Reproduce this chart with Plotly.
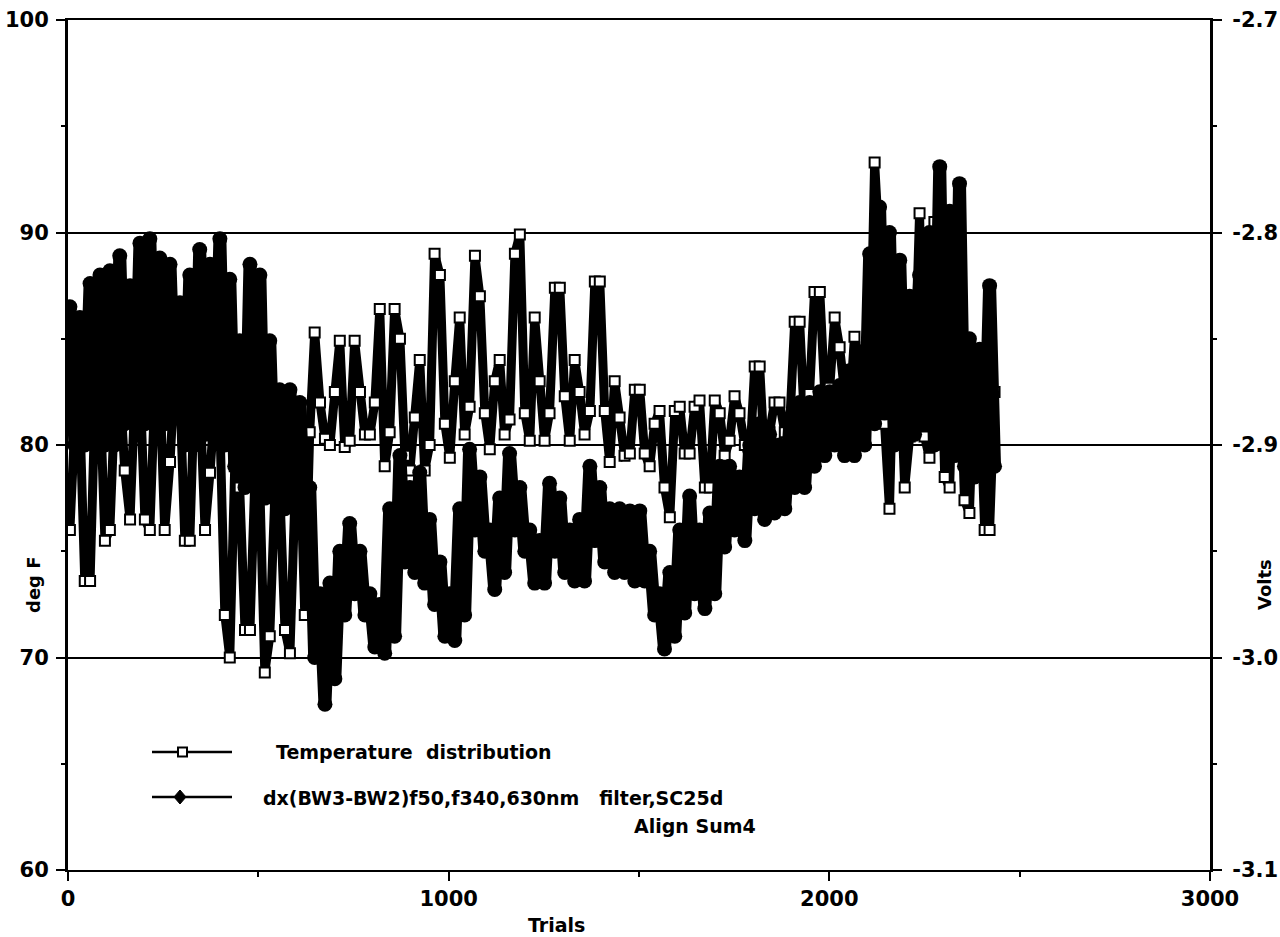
import plotly.graph_objects as go

# Temperature (deg F) and detector signal (Volts), sampled about every 13 trials.
# Values follow the fast swing of each signal between its highs and lows.
temp_f = [
    76, 81, 81.5, 73.6, 73.6, 82, 82.5, 75.5, 76, 82, 83, 78.8, 76.5, 82.5, 83, 76.5,
    76, 82.5, 83, 76, 79.2, 83.5, 82.5, 75.5, 75.5, 83, 82.5, 76, 78.7, 82, 81, 72,
    70, 79, 78, 71.3, 71.3, 78.5, 78, 69.3, 71, 77.5, 78, 71.3, 70.2, 77.5, 80, 72,
    80.6, 85.3, 82, 80.3, 80, 82.5, 84.9, 79.9, 80.2, 84.9, 82.5, 80.5, 80.5, 82, 86.4, 79,
    80.6, 86.4, 85, 79.5, 78.8, 81.3, 84, 78.8, 80, 89, 88, 81, 79.4, 83, 86, 80.5,
    81.8, 88.9, 87, 81.5, 79.8, 83, 84, 80.5, 81.2, 89, 89.9, 81.5, 80.2, 86, 83, 80.2,
    81.5, 87.4, 87.4, 82.3, 80.2, 84, 82.5, 80.5, 81.6, 87.7, 87.7, 81.6, 79.2, 83, 81.3, 79.5,
    79.6, 82.6, 82.6, 79.6, 79, 81, 81.6, 78, 76.6, 81.6, 81.8, 79.6, 79.6, 81.8, 82.1, 78,
    78, 82.1, 81.5, 79.5, 80.2, 82.3, 81.5, 80, 79.3, 83.7, 83.7, 79.3, 80.6, 82, 82, 80.6,
    81, 85.8, 85.8, 81, 82.4, 87.2, 87.2, 82.4, 82.7, 86, 84.6, 82.5, 81.5, 85.1, 84, 82,
    82.4, 93.3, 89, 81, 77, 86, 84, 78, 80.4, 83, 90.9, 80.4, 79.4, 90.5, 88, 78.5,
    78, 86, 85, 77.4, 76.8, 84, 83, 76, 76, 82.5,
]

volts = [
    -2.835, -2.900, -2.840, -2.900, -2.824, -2.895, -2.820, -2.900, -2.818, -2.900,
    -2.811, -2.890, -2.825, -2.890, -2.805, -2.890, -2.803, -2.890, -2.812, -2.890,
    -2.815, -2.885, -2.833, -2.900, -2.820, -2.900, -2.808, -2.895, -2.815, -2.890,
    -2.803, -2.900, -2.822, -2.910, -2.851, -2.920, -2.815, -2.920, -2.820, -2.925,
    -2.851, -2.925, -2.874, -2.930, -2.874, -2.930, -2.880, -2.940, -2.920, -3.000,
    -2.970, -3.022, -2.965, -3.010, -2.950, -2.980, -2.937, -2.970, -2.950, -2.980,
    -2.970, -2.995, -2.975, -2.998, -2.930, -2.990, -2.905, -2.955, -2.920, -2.960,
    -2.913, -2.965, -2.935, -2.975, -2.955, -2.990, -2.970, -2.992, -2.930, -2.980,
    -2.902, -2.940, -2.915, -2.950, -2.940, -2.968, -2.925, -2.960, -2.904, -2.940,
    -2.920, -2.950, -2.940, -2.965, -2.945, -2.965, -2.918, -2.950, -2.925, -2.960,
    -2.940, -2.964, -2.935, -2.964, -2.910, -2.945, -2.920, -2.955, -2.930, -2.960,
    -2.930, -2.960, -2.931, -2.964, -2.931, -2.964, -2.950, -2.980, -2.970, -2.996,
    -2.960, -2.990, -2.940, -2.979, -2.924, -2.970, -2.940, -2.977, -2.932, -2.970,
    -2.910, -2.948, -2.910, -2.940, -2.915, -2.945, -2.900, -2.930, -2.890, -2.935,
    -2.895, -2.932, -2.900, -2.930, -2.890, -2.920, -2.880, -2.920, -2.880, -2.910,
    -2.875, -2.905, -2.875, -2.900, -2.872, -2.905, -2.865, -2.905, -2.860, -2.900,
    -2.810, -2.890, -2.788, -2.885, -2.800, -2.900, -2.813, -2.900, -2.830, -2.895,
    -2.820, -2.890, -2.800, -2.900, -2.769, -2.900, -2.790, -2.905, -2.777, -2.910,
    -2.850, -2.915, -2.855, -2.910, -2.825, -2.910,
]

# trial number of each sample
trials = [round(5 + 13.13 * k) for k in range(len(temp_f))]

temp_name = "Temperature  distribution"
volt_name = "dx(BW3-BW2)f50,f340,630nm   filter,SC25d"
volt_note = "Align Sum4"

x_ticks = [0, 1000, 2000, 3000]
left_ticks = [60, 70, 80, 90, 100]
right_ticks = [-3.1, -3.0, -2.9, -2.8, -2.7]
right_labels = ["-3.1", "-3.0", "-2.9", "-2.8", "-2.7"]

FONT = "DejaVu Sans, Arial, sans-serif"
BOLD = dict(family=FONT, color="black", weight="bold")

fig = go.Figure()

# heavy strokes so the densely sampled traces print as solid bands
fig.add_trace(go.Scatter(
    x=trials, y=volts, yaxis="y2", mode="lines+markers", name=volt_name,
    line=dict(color="black", width=13),
    marker=dict(symbol="circle", size=15, color="black"),
    showlegend=False,
))
fig.add_trace(go.Scatter(
    x=trials, y=temp_f, mode="lines+markers", name=temp_name,
    line=dict(color="black", width=9),
    marker=dict(symbol="square", size=10, color="white",
                line=dict(color="black", width=2)),
    showlegend=False,
))

# hand-drawn legend block inside the plot area (paper coordinates)
def px_x(px):
    return (px - 68) / 1142.0

def px_y(py):
    return (870 - py) / 850.0

shapes = []
for py in (752, 797):
    shapes.append(dict(type="line", xref="paper", yref="paper",
                       x0=px_x(152), x1=px_x(232), y0=px_y(py), y1=px_y(py),
                       line=dict(color="black", width=2.5)))
# open square legend symbol
shapes.append(dict(type="rect", xref="paper", yref="paper",
                   x0=px_x(178), x1=px_x(187), y0=px_y(756.5), y1=px_y(747.5),
                   fillcolor="white", line=dict(color="black", width=2)))
# filled diamond legend symbol
cx, cy = 180, 797
shapes.append(dict(type="path", xref="paper", yref="paper",
                   path=(f"M {px_x(cx)},{px_y(cy - 7)} L {px_x(cx + 6)},{px_y(cy)} "
                         f"L {px_x(cx)},{px_y(cy + 7)} L {px_x(cx - 6)},{px_y(cy)} Z"),
                   fillcolor="black", line=dict(color="black", width=1)))

annotations = [
    dict(text=temp_name, xref="paper", yref="paper", x=px_x(274), y=px_y(752),
         xanchor="left", yanchor="middle", showarrow=False, font=dict(BOLD, size=19)),
    dict(text=volt_name, xref="paper", yref="paper", x=px_x(261), y=px_y(798),
         xanchor="left", yanchor="middle", showarrow=False, font=dict(BOLD, size=19)),
    dict(text=volt_note, xref="paper", yref="paper", x=px_x(632), y=px_y(826),
         xanchor="left", yanchor="middle", showarrow=False, font=dict(BOLD, size=19)),
    dict(text="deg F", xref="paper", yref="paper", x=px_x(33), y=px_y(585),
         xanchor="center", yanchor="middle", showarrow=False, textangle=-90,
         font=dict(BOLD, size=18)),
    dict(text="Volts", xref="paper", yref="paper", x=px_x(1264), y=px_y(585),
         xanchor="center", yanchor="middle", showarrow=False, textangle=-90,
         font=dict(BOLD, size=18)),
    dict(text="Trials", xref="paper", yref="paper", x=px_x(556), y=px_y(925),
         xanchor="center", yanchor="middle", showarrow=False, font=dict(BOLD, size=19)),
]

tickfont = dict(BOLD, size=21)

fig.update_layout(
    width=1280, height=937,
    margin=dict(l=68, r=70, t=20, b=67, autoexpand=False),
    paper_bgcolor="white", plot_bgcolor="white",
    font=dict(family=FONT, size=21, color="black"),
    shapes=shapes, annotations=annotations,
    xaxis=dict(
        range=[0, 3000], tickvals=x_ticks, ticks="outside", ticklen=9, tickwidth=2,
        tickcolor="black", showline=True, linecolor="black", linewidth=2,
        mirror=True, showgrid=False, zeroline=False, automargin=False,
        minor=dict(ticks="outside", ticklen=5, tickwidth=2, tickcolor="black",
                   dtick=500, showgrid=False),
        tickfont=tickfont,
    ),
    yaxis=dict(
        range=[60, 100], tickvals=left_ticks, ticks="outside", ticklen=9, tickwidth=2,
        tickcolor="black", showline=True, linecolor="black", linewidth=3,
        showgrid=True, gridcolor="black", gridwidth=2, zeroline=False, automargin=False,
        minor=dict(ticks="outside", ticklen=4, tickwidth=2, tickcolor="black",
                   dtick=5, showgrid=False),
        tickfont=tickfont, ticklabelstandoff=3,
    ),
    yaxis2=dict(
        range=[-3.1, -2.7], overlaying="y", side="right",
        tickvals=right_ticks, ticktext=right_labels, ticks="outside", ticklen=9,
        tickwidth=2, tickcolor="black", showline=True, linecolor="black",
        linewidth=3, showgrid=False, zeroline=False, automargin=False,
        minor=dict(ticks="outside", ticklen=4, tickwidth=2, tickcolor="black",
                   dtick=0.05, showgrid=False),
        tickfont=tickfont, ticklabelstandoff=6,
    ),
)

fig.write_html("out.html")
